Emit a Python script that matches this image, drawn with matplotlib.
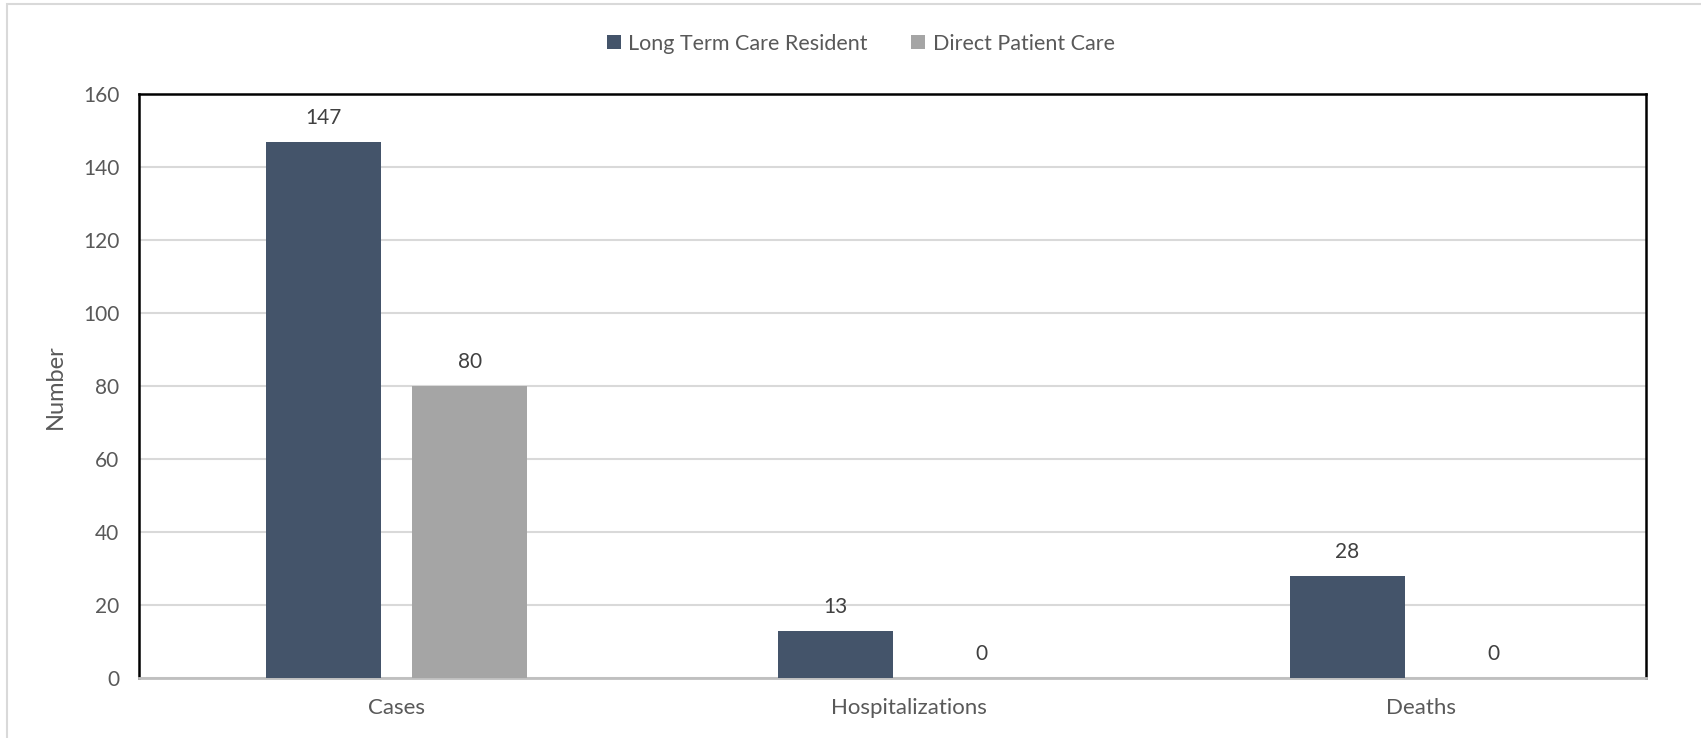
import numpy as np
import matplotlib.pyplot as plt
from matplotlib.patches import Rectangle

plt.rcParams['font.family'] = ['Lato', 'DejaVu Sans']

categories = ["Cases", "Hospitalizations", "Deaths"]
ltc_resident = [147, 13, 28]
direct_care = [80, 0, 0]
series_names = ["Long Term Care Resident", "Direct Patient Care"]
yticks = [0, 20, 40, 60, 80, 100, 120, 140, 160]

dark = "#44546A"
gray = "#A5A5A5"
text_col = "#595959"

fig = plt.figure(figsize=(17.01, 7.38), dpi=100)
ax = fig.add_axes([0.0816, 0.081, 0.886, 0.791])

# outer chart border
fig.patches.append(Rectangle((0.004, -0.1), 1.2, 1.094, transform=fig.transFigure,
                             fill=False, edgecolor="#D9D9D9", linewidth=1.5))

x = np.arange(len(categories))
w = 0.224
off = 0.143
b1 = ax.bar(x - off, ltc_resident, w, color=dark, label=series_names[0], zorder=3)
b2 = ax.bar(x + off, direct_care, w, color=gray, label=series_names[1], zorder=3)

for bars in (b1, b2):
    for r in bars:
        ax.annotate(str(int(r.get_height())), (r.get_x() + r.get_width() / 2, r.get_height()),
                    xytext=(0, 10), textcoords="offset points", ha="center", va="bottom",
                    fontsize=15, color="#404040")

ax.set_xlim(-0.503, 2.44)
ax.set_ylim(0, 160)
ax.set_yticks(yticks)
ax.set_xticks(x)
ax.set_xticklabels(categories)
ax.yaxis.grid(True, color="#D9D9D9", linewidth=1.5, zorder=0)
ax.set_axisbelow(True)
ax.tick_params(axis="both", length=0, labelsize=15, labelcolor=text_col)
ax.tick_params(axis="x", pad=14, labelsize=16)
ax.tick_params(axis="y", pad=14)
ax.set_ylabel("Number", fontsize=17, color=text_col, labelpad=12)

for s in ("left", "top", "right"):
    ax.spines[s].set_color("black")
    ax.spines[s].set_linewidth(1.8)
ax.spines["bottom"].set_color("#BFBFBF")
ax.spines["bottom"].set_linewidth(2)

leg = fig.legend(loc="center", bbox_to_anchor=(0.506, 0.941), ncol=2, frameon=False,
                 fontsize=15.5, handlelength=0.65, handleheight=0.65, columnspacing=2.0,
                 handletextpad=0.35)
for t in leg.get_texts():
    t.set_color(text_col)

fig.savefig("out.png", dpi=100)
